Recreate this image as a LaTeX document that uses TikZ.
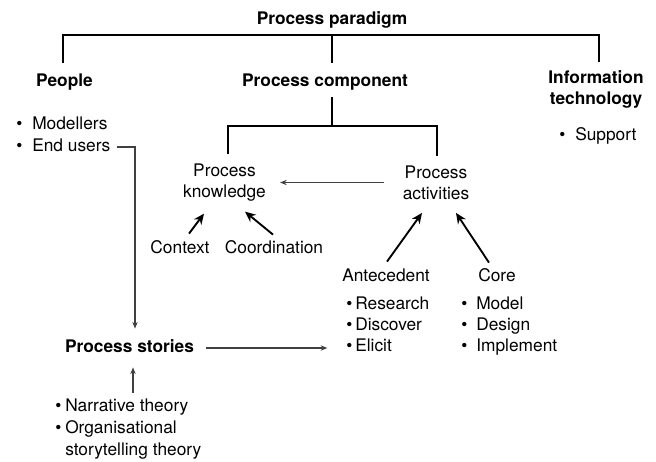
\documentclass[tikz,border=0pt]{standalone}
\usepackage{fontspec}
\setmainfont{TeX Gyre Heros}
\usetikzlibrary{arrows.meta,calc}
\newcommand{\bul}[1][12pt]{\makebox[#1][l]{\textbullet}}

\begin{document}
\begin{tikzpicture}[x=0.75pt, y=-0.75pt,
    every node/.style={inner sep=0pt, font=\fontsize{13}{16}\selectfont},
    head/.style={font=\fontsize{13}{16}\selectfont\bfseries},
    one/.style={text height=9.5pt, text depth=2.7pt},
    tree/.style={line width=1.5pt},
    link/.style={line width=0.9pt, draw=black!75, -{Stealth[length=5pt,width=4pt]}},
    push/.style={line width=1.4pt, -{Stealth[length=8pt,width=7pt]}}]
    \useasboundingbox (0,0) rectangle (656,461);

    % top level
    \node[head, one] (paradigm) at (332,20) {Process paradigm};
    \node[head, one] (people) at (64.5,82) {People};
    \node[head, one] (comp) at (325,82) {Process component};
    \node[head, align=center] (it) at (596,89.5) {Information\\technology};
    \coordinate (top) at (332,35);
    \draw[tree] ($(people.north)+(-1.5,-11)$) |- (top) -| ($(it.north)+(3,-8)$);
    \draw[tree] (top) -- ($(comp.north -| top)+(0,-11)$);

    % lists under the top level
    \node[one, anchor=west] (modellers) at (16,125) {\bul Modellers};
    \node[one, anchor=west] (users) at (16,147) {\bul End users};
    \node[one, anchor=west] (support) at (559,136) {\bul Support};

    % process component
    \node[align=center] (know) at (224.5,182.5) {Process\\knowledge};
    \node[align=center] (act) at (436,182.5) {Process\\activities};
    \coordinate (mid) at (332,126);
    \draw[tree] ($(comp.south -| mid)+(0,7)$) -- (mid);
    \draw[tree] ($(know.north)+(3.5,-9)$) |- (mid) -| ($(act.north)+(1,-9)$);
    \draw[link, shorten <=14pt, shorten >=10.5pt] (act.west) -- (know.east);

    \node[one] (context) at (180,249) {Context};
    \node[one] (coord) at (274,249) {Coordination};
    \draw[push] ($(context.north)+(9,-7)$) -- ($(know.south)+(-20.5,12)$);
    \draw[push] ($(coord.north)+(-1,-6)$) -- ($(know.south)+(20.5,10)$);

    \node[one] (ante) at (386,277) {Antecedent};
    \node[one] (core) at (497,277) {Core};
    \draw[push] ($(ante.north)+(1,-7)$) -- ($(act.south)+(-14,13)$);
    \draw[push] ($(core.north)+(-8,-6)$) -- ($(act.south)+(20,13)$);

    \node[one, anchor=west] (research) at (346,305) {\bul[6.75pt]Research};
    \node[one, anchor=west] (discover) at (346,326) {\bul[6.75pt]Discover};
    \node[one, anchor=west] (elicit) at (346,347) {\bul[6.75pt]Elicit};
    \node[one, anchor=west] (model) at (461,305) {\bul[11.25pt]Model};
    \node[one, anchor=west] (design) at (461,326) {\bul[11.25pt]Design};
    \node[one, anchor=west] (implement) at (461,347) {\bul[11.25pt]Implement};

    % process stories
    \node[head, one] (stories) at (129.5,348) {Process stories};
    \node[one, anchor=west] (narrative) at (55,407) {\bul[7.5pt]Narrative theory};
    \node[align=left, anchor=west] (organ) at (55,440) {\bul[7.5pt]Organisational\\\hspace*{7.5pt}storytelling theory};
    \draw[link, shorten <=4.5pt] (users.east) -| ($(stories.north)+(5.5,-11)$);
    \draw[link, shorten <=9pt, shorten >=14pt] (stories.east) -- (elicit.west |- stories.east);
    \draw[link] ($(narrative.north -| stories)+(3.5,-6)$) -- ($(stories.south)+(3.5,11)$);
\end{tikzpicture}
\end{document}
